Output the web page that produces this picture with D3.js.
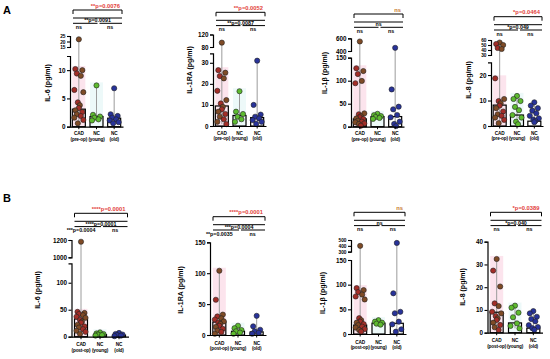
<!DOCTYPE html>
<html>
<head>
<meta charset="utf-8">
<script src="https://cdn.jsdelivr.net/npm/d3@7"></script>
<style>
body { margin: 0; background: #fff; }
svg { display: block; font-family: "Liberation Sans", Arial, sans-serif; font-weight: bold; }
</style>
</head>
<body>
<div id="chart"></div>
<script>
const groupsA = ['CAD|(pre-op)', 'NC|(young)', 'NC|(old)'];
const groupsB = ['CAD|(post-op)', 'NC|(young)', 'NC|(old)'];

// A: pre-op values (pg/ml)
const il6PreCad = [22, 10.2, 10, 9.4, 9.0, 6.5, 6.1, 4.3, 3.8, 3.3, 2.9, 2.6, 2.2, 1.9, 1.6, 1.2, 0.6];
const il6PreYoung = [7.3, 2.1, 1.8, 1.6, 1.3, 1.1];
const il6PreOld = [6.8, 2.2, 1.9, 1.6, 1.3, 1.1, 0.8, 0.6];
const il6PreMed = [3.1, 1.8, 1.5];

const il1raPreCad = [94, 26.5, 25.3, 23.7, 22.6, 16.7, 12.3, 10.7, 9.1, 7.9, 6.8, 5.7, 4.4, 3.2, 2.0, 0.9];
const il1raPreYoung = [16.5, 6.8, 5.7, 4.4, 3.2, 2.0];
const il1raPreOld = [31, 10, 5.4, 4.4, 3.6, 2.8, 2.0, 1.0];
const il1raPreMed = [9.5, 5, 4];

const il1bPreCad = [550, 127, 121, 114.5, 99.5, 94.5, 29, 27, 23, 20.5, 18, 16.7, 13, 11, 9.5, 7, 5.8, 2.2];
const il1bPreYoung = [28, 25, 23, 21, 19, 17];
const il1bPreOld = [450, 81, 43.5, 37.8, 25.4, 20.4, 11, 6, 1.5];
const il1bPreMed = [17, 22, 22];

const il8PreCad = [55, 52, 50, 44, 42, 18.7, 10.6, 9.8, 8.9, 8.0, 7.0, 5.7, 4.6, 4.0, 3.3, 2.4, 1.1];
const il8PreYoung = [11.8, 10.6, 9.8, 7.5, 6.2, 4.3, 3.3, 1.7, 0.7];
const il8PreOld = [9.3, 8.0, 7.0, 6.0, 5.0, 4.0, 3.0, 2.5, 2.0, 1.5];
const il8PreMed = [8.2, 4.3, 1.9];

// B: post-op values (pg/ml)
const il6PostCad = [1180, 46, 44, 42, 40, 37, 35, 31, 28, 26, 22, 19, 17, 14, 11, 9, 5];
const il6PostYoung = [8, 6, 5, 4, 3, 2];
const il6PostOld = [7, 5, 4, 3, 2, 1];
const il6PostMed = [33, 4, 3];

const il1raPostCad = [104, 57, 33, 30, 27, 25, 22, 20, 18, 15, 13, 10, 7, 5, 2];
const il1raPostYoung = [15, 11, 8, 6, 4, 2];
const il1raPostOld = [31, 14, 8.5, 6, 3.5, 2];
const il1raPostMed = [21, 6, 5];

const il1bPostCad = [400, 93, 89, 85, 80, 76, 70, 32, 28, 25, 23, 20, 18, 15, 13, 10, 8, 5];
const il1bPostYoung = [28, 25, 23, 21, 19];
const il1bPostOld = [450, 82.5, 45, 42, 25, 19.6, 9.5, 4.7];
const il1bPostMed = [18, 22, 21.7];

const il8PostCad = [32.4, 27.3, 20.3, 12.9, 11.7, 9.2, 8.5, 7.3, 6.3, 5.6, 4.4, 3.4, 2.4, 1.2];
const il8PostYoung = [11.9, 11, 8.8, 6.8, 4.1, 3, 1.9];
const il8PostOld = [9.5, 8.5, 7, 6, 5, 3.3, 2.5, 2, 1.3];
const il8PostMed = [9, 4.3, 2];

// axis ticks per segment
const il6PreTicks = [[0, 5, 10], [15, 20, 25]];
const il1raPreTicks = [[0, 10, 20, 30], [80, 120]];
const il1bPreTicks = [[0, 50, 100, 150], [400, 600]];
const il8PreTicks = [[0, 10, 20], [30, 40, 50, 60]];
const il6PostTicks = [[0, 50, 100], [1000, 1200]];
const il1raPostTicks = [[0, 50, 100, 150]];
const il1bPostTicks = [[0, 50, 100, 150], [300, 400, 500]];
const il8PostTicks = [[0, 10, 20, 30, 40]];

// significance labels: overall, CAD vs old, CAD vs young, young vs old
const il6PreSig = ['**p=0.0076', '**p=0.0091', 'ns', 'ns'];
const il1raPreSig = ['**p=0.0052', '**p=0.0087', 'ns', 'ns'];
const il1bPreSig = ['ns', 'ns', 'ns', 'ns'];
const il8PreSig = ['*p=0.0464', '*p=0.049', 'ns', 'ns'];
const il6PostSig = ['****p=0.0001', '****p=0.0001', '***p=0.0004', 'ns'];
const il1raPostSig = ['****p=0.0001', '***p=0.0004', '**p=0.0035', 'ns'];
const il1bPostSig = ['ns', 'ns', 'ns', 'ns'];
const il8PostSig = ['*p=0.0389', '*p=0.040', 'ns', 'ns'];

const w = 550;
const h = 359;

const svg = d3.select('#chart').append('svg').attr('width', w).attr('height', h);

svg.append('text').attr('x', 3).attr('y', 14).attr('font-size', 11).text('A');
svg.append('text').attr('x', 3).attr('y', 202).attr('font-size', 11).text('B');

const panels = [
    { title: 'IL-6 (pg/ml)', groups: groupsA, vals: [il6PreCad, il6PreYoung, il6PreOld], med: il6PreMed, ticks: il6PreTicks, sig: il6PreSig,
      x0: 70, w: 53, lab: [8.5, 14], tx: 20, ty: 83, top: 10,
      segs: [{ dom: [0, 12.5], rng: [126.7, 56] }, { dom: [15, 25], rng: [47, 36] }] },
    { title: 'IL-1RA (pg/ml)', groups: groupsA, vals: [il1raPreCad, il1raPreYoung, il1raPreOld], med: il1raPreMed, ticks: il1raPreTicks, sig: il1raPreSig,
      x0: 213, w: 53, lab: [8.5, 14], tx: 21, ty: 70, top: 12.3,
      segs: [{ dom: [0, 34.5], rng: [126, 53.3] }, { dom: [80, 120], rng: [47, 34.5] }] },
    { title: 'IL-1\u03b2 (pg/ml)', groups: groupsA, vals: [il1bPreCad, il1bPreYoung, il1bPreOld], med: il1bPreMed, ticks: il1bPreTicks, sig: il1bPreSig,
      x0: 351, w: 53, lab: [8.5, 14], tx: 24, ty: 73, top: 14,
      segs: [{ dom: [0, 150], rng: [126.7, 57.7] }, { dom: [400, 600], rng: [51, 38.3] }] },
    { title: 'IL-8 (pg/ml)', groups: groupsA, vals: [il8PreCad, il8PreYoung, il8PreOld], med: il8PreMed, ticks: il8PreTicks, sig: il8PreSig,
      x0: 491, w: 52, lab: [8.5, 14], tx: 20, ty: 80, top: 16.7,
      segs: [{ dom: [0, 25], rng: [126, 62.3] }, { dom: [30, 60], rng: [55, 40] }] },
    { title: 'IL-6 (pg/ml)', groups: groupsB, vals: [il6PostCad, il6PostYoung, il6PostOld], med: il6PostMed, ticks: il6PostTicks, sig: il6PostSig,
      x0: 71.5, w: 57, lab: [9.5, 15], tx: 32, ty: 290, top: 213.3,
      segs: [{ dom: [0, 136], rng: [336.7, 263.3] }, { dom: [1000, 1200], rng: [257.3, 240] }] },
    { title: 'IL-1RA (pg/ml)', groups: groupsB, vals: [il1raPostCad, il1raPostYoung, il1raPostOld], med: il1raPostMed, ticks: il1raPostTicks, sig: il1raPostSig,
      x0: 210, w: 56, lab: [9.5, 15], tx: 27, ty: 290, top: 216.7,
      segs: [{ dom: [0, 150], rng: [335, 242.3] }] },
    { title: 'IL-1\u03b2 (pg/ml)', groups: groupsB, vals: [il1bPostCad, il1bPostYoung, il1bPostOld], med: il1bPostMed, ticks: il1bPostTicks, sig: il1bPostSig,
      x0: 351, w: 55, lab: [9.5, 15], tx: 26, ty: 293, top: 212.3,
      segs: [{ dom: [0, 150], rng: [334, 260] }, { dom: [300, 500], rng: [251.7, 240] }] },
    { title: 'IL-8 (pg/ml)', groups: groupsB, vals: [il8PostCad, il8PostYoung, il8PostOld], med: il8PostMed, ticks: il8PostTicks, sig: il8PostSig,
      x0: 487.5, w: 55, lab: [9.5, 15], tx: 22.5, ty: 287, top: 212.3,
      segs: [{ dom: [0, 40], rng: [332.7, 241.7] }] }
];

const fills = [['#7f4b26', '#a32e28'], ['#5dbb2f', '#5dbb2f'], ['#28339a', '#28339a']];
const shades = ['#fbdde9', '#dcf3f3', null];
const jit = [0, -3.5, 3.5, -2, 2, -4.5, 4.5, -1, 1];

panels.forEach(p => drawPanel(p));

function drawPanel(p) {
    const g = svg.append('g');
    const x = d3.scaleBand().domain(p.groups).range([p.x0, p.x0 + p.w]);
    const cx = (i) => x(p.groups[i]) + x.bandwidth() / 2;
    const scales = p.segs.map(s => d3.scaleLinear().domain(s.dom).range(s.rng));
    const y = (v) => {
        for (let i = scales.length - 1; i >= 0; i--) {
            if (v >= p.segs[i].dom[0] || i === 0) return scales[i](v);
        }
    };
    const lowTop = p.segs[0].dom[1];

    // shaded background behind points
    p.vals.forEach((vals, i) => {
        if (!shades[i]) return;
        const top = d3.max(vals.filter(v => v <= lowTop));
        g.append('rect').attr('x', cx(i) - 6.5).attr('y', y(top) - 3)
            .attr('width', 13).attr('height', y(0) - y(top) + 3)
            .attr('fill', shades[i]).attr('opacity', i === 0 ? 0.8 : 0.5);
    });

    // min-max whiskers
    p.vals.forEach((vals, i) => {
        g.append('line').attr('x1', cx(i)).attr('x2', cx(i))
            .attr('y1', y(d3.min(vals))).attr('y2', y(d3.max(vals)))
            .attr('stroke', '#9c9c9c').attr('stroke-width', 1);
    });

    // median bars
    g.selectAll('rect.bar').data(p.med).enter().append('rect').attr('class', 'bar')
        .attr('x', (d, i) => cx(i) - 6.5).attr('y', d => y(d))
        .attr('width', 13).attr('height', d => y(0) - y(d))
        .attr('fill', 'none').attr('stroke', '#000').attr('stroke-width', 1.2);

    // points
    p.vals.forEach((vals, i) => {
        g.selectAll(null).data(vals).enter().append('circle')
            .attr('cx', (d, j) => cx(i) + jit[j % jit.length])
            .attr('cy', d => y(d)).attr('r', 2.6)
            .attr('fill', (d, j) => fills[i][j % 2])
            .attr('stroke', '#222').attr('stroke-width', 0.6);
    });

    // y axis segments
    p.segs.forEach((s, i) => {
        const tk = p.ticks[i];
        const gap = Math.abs(scales[i](tk[0]) - scales[i](tk[1]));
        const ax = g.append('g').attr('transform', `translate(${p.x0},0)`)
            .call(d3.axisLeft(scales[i]).tickValues(tk).tickFormat(d3.format('d'))
                .tickSize(3).tickSizeOuter(3).tickPadding(1.5));
        ax.select('.domain').attr('stroke-width', 1.2);
        ax.selectAll('.tick line').attr('stroke-width', 1.1);
        ax.selectAll('.tick text').attr('font-size', gap < 8 ? 4.8 : 6.3)
            .attr('font-family', 'Liberation Sans, Arial, sans-serif').attr('font-weight', 'bold');
    });

    // x axis
    const xa = g.append('g').attr('transform', `translate(0,${y(0)})`)
        .call(d3.axisBottom(x).tickSize(2.5).tickSizeOuter(0).tickFormat(''));
    xa.select('.domain').attr('stroke-width', 1.2);

    p.groups.forEach((gr, i) => {
        const parts = gr.split('|');
        const t = g.append('text').attr('text-anchor', 'middle').attr('font-size', 4.7)
            .attr('letter-spacing', -0.15);
        t.append('tspan').attr('x', cx(i)).attr('y', y(0) + p.lab[0]).text(parts[0]);
        t.append('tspan').attr('x', cx(i)).attr('y', y(0) + p.lab[1]).text(parts[1]);
    });

    // y title
    g.append('text').attr('transform', `translate(${p.x0 - p.tx},${p.ty}) rotate(-90)`)
        .attr('text-anchor', 'middle').attr('font-size', 7).text(p.title);

    // significance brackets
    const T = p.top;
    const x1 = p.x0 + 3;
    const x2 = p.x0 + p.w - 1;
    const xm = cx(1);
    g.append('text').attr('x', x2 - 2).attr('y', T - 2.5).attr('text-anchor', 'end').attr('font-size', 5.8)
        .attr('fill', p.sig[0] === 'ns' ? '#c8792c' : '#e2403a').text(p.sig[0]);
    g.append('path').attr('d', `M${x1},${T + 4}V${T}H${x2}V${T + 4}`)
        .attr('fill', 'none').attr('stroke', '#000').attr('stroke-width', 1);
    g.append('line').attr('x1', x1).attr('x2', x2).attr('y1', T + 8).attr('y2', T + 8)
        .attr('stroke', '#000').attr('stroke-width', 1);
    g.append('text').attr('x', (x1 + x2) / 2).attr('y', T + 12.3).attr('text-anchor', 'middle')
        .attr('font-size', 5.3).text(p.sig[1]);
    g.append('line').attr('x1', x1).attr('x2', xm + 1).attr('y1', T + 13.3).attr('y2', T + 13.3)
        .attr('stroke', '#000').attr('stroke-width', 1);
    g.append('line').attr('x1', xm + 3).attr('x2', x2).attr('y1', T + 13.3).attr('y2', T + 13.3)
        .attr('stroke', '#000').attr('stroke-width', 1);
    g.append('text').attr('x', cx(0)).attr('y', T + 19).attr('text-anchor', 'middle')
        .attr('font-size', 5.3).text(p.sig[2]);
    g.append('text').attr('x', cx(2) - 4).attr('y', T + 19).attr('text-anchor', 'middle')
        .attr('font-size', 5.3).text(p.sig[3]);
}
</script>
</body>
</html>
